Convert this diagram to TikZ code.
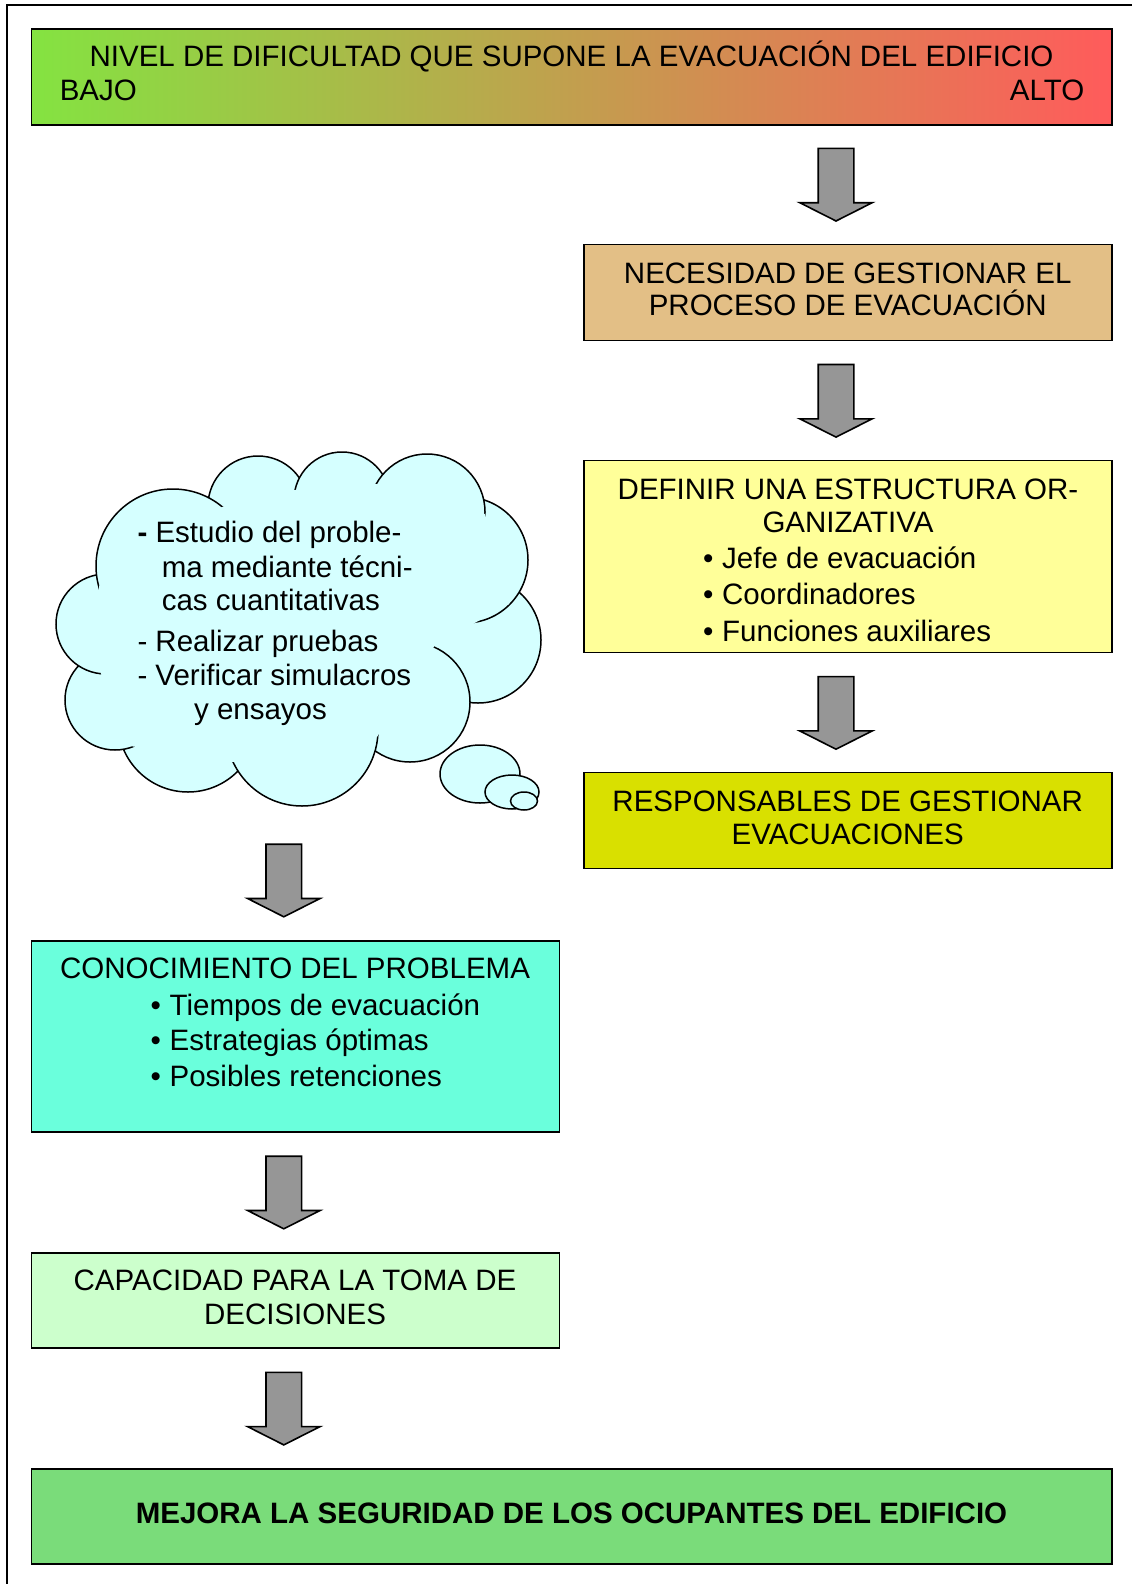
\documentclass[tikz,border=0pt]{standalone}
\usepackage{fontspec}
\setmainfont{Liberation Sans}
\usetikzlibrary{calc}
\definecolor{gradL}{HTML}{84E341}
\definecolor{gradM}{HTML}{D4A94F}
\definecolor{gradR}{HTML}{FF5B5B}
\definecolor{tanbox}{HTML}{E3BF86}
\definecolor{yellowbox}{HTML}{FFFF99}
\definecolor{limebox}{HTML}{D9E000}
\definecolor{cloudfill}{HTML}{D5FFFF}
\definecolor{aquabox}{HTML}{6AFFDC}
\definecolor{palegreen}{HTML}{CCFFCC}
\definecolor{greenbox}{HTML}{7ADC7A}
\definecolor{arrowgray}{HTML}{969696}
\newcommand\blockarrowat[1]{%
  \draw[blockarrow] (#1) ++(-17.8,0) -- ++(35.6,0) -- ++(0,54.3) -- ++(18.4,0)
    -- ++(-36.2,18.3) -- ++(-36.2,-18.3) -- ++(18.4,0) -- cycle;}
\begin{document}
\begin{tikzpicture}[x=1pt,y=-1pt,
  every node/.style={font=\fontsize{29.5}{33.9}\selectfont},
  box/.style={draw=black, line width=1.6pt, rectangle, inner sep=0pt, outer sep=0pt, anchor=north west},
  txt/.style={inner sep=0pt, anchor=base},
  txtl/.style={inner sep=0pt, anchor=base west},
  txtr/.style={inner sep=0pt, anchor=base east},
  blockarrow/.style={draw=black, line width=1.6pt, fill=arrowgray, line join=miter},
  cloudline/.style={draw=black, line width=1.5pt},
  lobe/.style={fill=cloudfill, draw=black, line width=1.5pt},
]
\useasboundingbox (0,0) rectangle (1132,1584);
% outer frame
\draw[line width=2pt] (7,1584) -- (7,5) -- (1132,5);

% boxes
\node[box, left color=gradL, middle color=gradM, right color=gradR, minimum width=1080.5pt, minimum height=95.9pt] (b1) at (31.3,29.3) {};
\node[box, fill=tanbox, minimum width=528.1pt, minimum height=95.9pt] (b2) at (583.7,244.4) {};
\node[box, fill=yellowbox, minimum width=528.1pt, minimum height=191.8pt] (b3) at (583.7,460.5) {};
\node[box, fill=limebox, minimum width=528.1pt, minimum height=95.9pt] (b4) at (583.7,772.5) {};
\node[box, fill=aquabox, minimum width=528.1pt, minimum height=190.8pt] (b5) at (31.3,941.1) {};
\node[box, fill=palegreen, minimum width=528.1pt, minimum height=94.9pt] (b6) at (31.3,1253.2) {};
\node[box, fill=greenbox, minimum width=1080.5pt, minimum height=95pt] (b7) at (31.3,1469.2) {};

% block arrows
\coordinate (a1) at (836,148.4);
\coordinate (a2) at (836,364.5);
\coordinate (a3) at (836,676.6);
\coordinate (a4) at (283.8,844.2);
\coordinate (a5) at (283.8,1156.2);
\coordinate (a6) at (283.8,1372.3);
\blockarrowat{a1}
\blockarrowat{a2}
\blockarrowat{a3}
\blockarrowat{a4}
\blockarrowat{a5}
\blockarrowat{a6}

% cloud: lobes painted in order, then the inside is covered
\coordinate (cloud) at (297,627);
\path[lobe] (478,640) circle[radius=63pt];   % C6
\path[lobe] (410,702) circle[radius=60pt];   % C7
\path[lobe] (188,722) circle[radius=70pt];   % C9
\path[lobe] (302,730) circle[radius=76pt];   % C8
\path[lobe] (465,560) circle[radius=63pt];   % C5
\path[lobe] (258,506) circle[radius=50pt];   % C2
\path[lobe] (342,500) circle[radius=48pt];   % C3
\path[lobe] (427,512) circle[radius=58pt];   % C4
\path[lobe] (115,700) circle[radius=50pt];   % C9b
\path[lobe] (106,624) circle[radius=50pt];   % C10
\path[lobe] (173,566) circle[radius=77pt];   % C1
\fill[cloudfill] (99,586) -- (222,507) -- (295,490) -- (376,484) -- (485,514)
  -- (509,604) -- (435,645) -- (377,737) -- (233,762) -- (130,746) -- (101,674) -- cycle;
% thought bubbles
\draw[cloudline, fill=cloudfill] (480,774) ellipse[x radius=40pt, y radius=29pt];
\draw[cloudline, fill=cloudfill] (512,792) ellipse[x radius=27pt, y radius=17pt];
\draw[cloudline, fill=cloudfill] (524,801) ellipse[x radius=13.5pt, y radius=9pt];

% texts
\node[txt] (t1) at (571.5,67) {NIVEL DE DIFICULTAD QUE SUPONE LA EVACUACIÓN DEL EDIFICIO};
\node[txtl] (t1l) at (59.6,100.4) {BAJO};
\node[txtr] (t1r) at (1084.5,100.4) {ALTO};

\node[txt] (t2a) at (847.7,283.1) {NECESIDAD DE GESTIONAR EL};
\node[txt] (t2b) at (847.7,315.5) {PROCESO DE EVACUACIÓN};

\node[txt] (t3a) at (848,499.2) {DEFINIR UNA ESTRUCTURA OR-};
\node[txt] (t3b) at (848,532.5) {GANIZATIVA};
\node[txtl] (t3c) at (703,568.4) {\makebox[19pt][l]{\textbullet}Jefe de evacuación};
\node[txtl] (t3d) at (703,604.8) {\makebox[19pt][l]{\textbullet}Coordinadores};
\node[txtl] (t3e) at (703,641.1) {\makebox[19pt][l]{\textbullet}Funciones auxiliares};

\node[txt] (t4a) at (847.7,811.3) {RESPONSABLES DE GESTIONAR};
\node[txt] (t4b) at (847.7,844.6) {EVACUACIONES};

\node[txtl] (c1) at (137.3,542.7) {\textbf{-} Estudio del proble-};
\node[txtl] (c2) at (161.6,577) {ma mediante técni-};
\node[txtl] (c3) at (161.6,610.3) {cas cuantitativas};
\node[txtl] (c4) at (137.3,651.7) {- Realizar pruebas};
\node[txtl] (c5) at (137.3,685) {- Verificar simulacros};
\node[txtl] (c6) at (193.9,719.4) {y ensayos};

\node[txt] (t5a) at (295,978.9) {CONOCIMIENTO DEL PROBLEMA};
\node[txtl] (t5b) at (150.5,1015.3) {\makebox[19pt][l]{\textbullet}Tiempos de evacuación};
\node[txtl] (t5c) at (150.5,1050.6) {\makebox[19pt][l]{\textbullet}Estrategias óptimas};
\node[txtl] (t5d) at (150.5,1086.9) {\makebox[19pt][l]{\textbullet}Posibles retenciones};

\node[txt] (t6a) at (295,1290.9) {CAPACIDAD PARA LA TOMA DE};
\node[txt] (t6b) at (295,1324.2) {DECISIONES};

\node[txt] (t7) at (571.5,1523.2) {\bfseries MEJORA LA SEGURIDAD DE LOS OCUPANTES DEL EDIFICIO};
\end{tikzpicture}
\end{document}
